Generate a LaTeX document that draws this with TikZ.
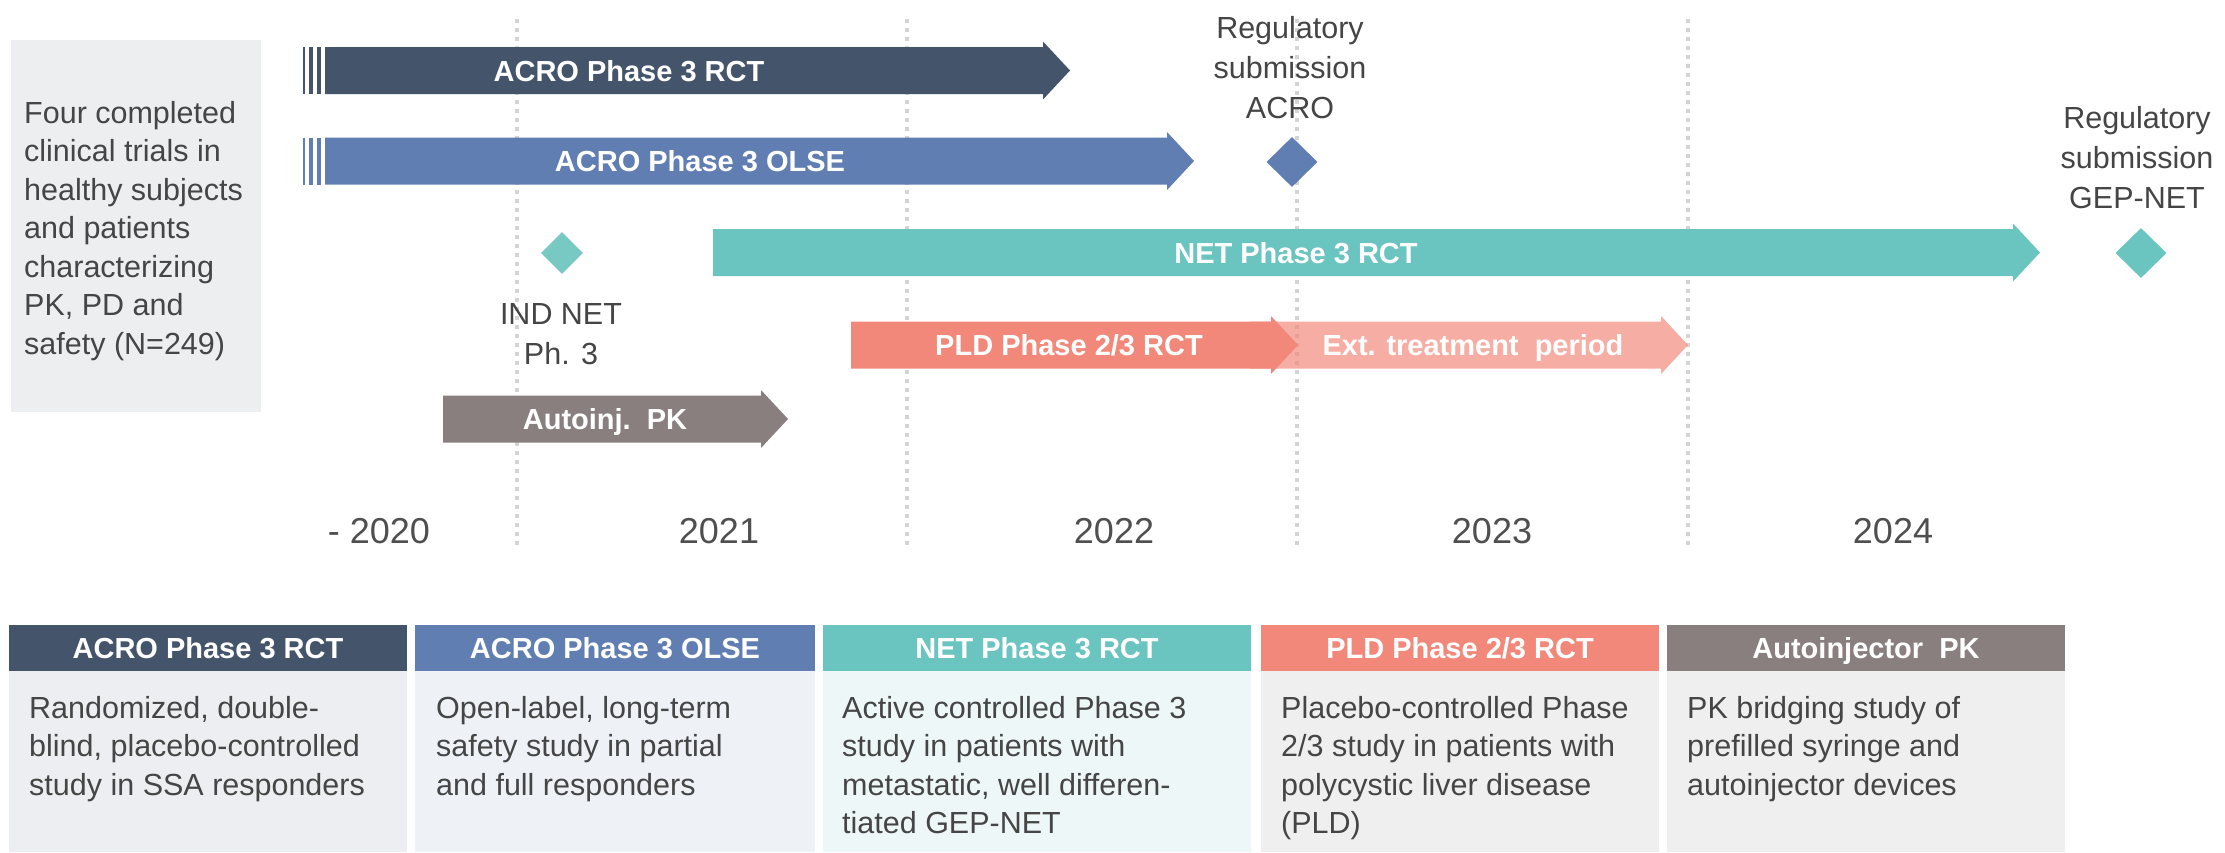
\documentclass[tikz,border=0pt]{standalone}
\usepackage{fontspec}
\setmainfont{Liberation Sans}
\usetikzlibrary{shapes.geometric}
\definecolor{acrorct}{HTML}{44546A}
\definecolor{acroolse}{HTML}{607EB2}
\definecolor{netc}{HTML}{6AC4C0}
\definecolor{indc}{HTML}{78C8C4}
\definecolor{pldc}{HTML}{F2887A}
\definecolor{autoc}{HTML}{897F7F}
\definecolor{txtgray}{HTML}{454545}
\definecolor{yeargray}{HTML}{4F4F4F}
\definecolor{dotgray}{HTML}{D4D4D4}
\definecolor{leftbox}{HTML}{EDEEF0}
\definecolor{bodyA}{HTML}{EDEEF1}
\definecolor{bodyB}{HTML}{EEF2F7}
\definecolor{bodyC}{HTML}{EEF7F8}
\definecolor{bodyD}{HTML}{EFEFEF}
\newcommand{\tlbar}[4]{% start x, tip x, centre y, colour
  \fill[#4] (#1,#3-23.5) -- (#2-27,#3-23.5) -- (#2-27,#3-29) -- (#2,#3)
    -- (#2-27,#3+29) -- (#2-27,#3+23.5) -- (#1,#3+23.5) -- cycle;}
\newcommand{\tlstripes}[2]{% centre y, colour
  \fill[#2] (303,#1-23.5) rectangle (305,#1+23.5);
  \fill[#2] (309,#1-23.5) rectangle (313,#1+23.5);
  \fill[#2] (317,#1-23.5) rectangle (321,#1+23.5);}
\newcommand{\fl}{\rule{0pt}{30pt}}
\begin{document}
\begin{tikzpicture}[x=1pt,y=-1pt,
  reg/.style={font=\fontsize{30.5}{38.5}\selectfont, text=txtgray, inner sep=0pt},
  regc/.style={font=\fontsize{30.5}{40}\selectfont, text=txtgray, inner sep=0pt, align=center, anchor=north},
  barlbl/.style={font=\fontsize{29}{34}\selectfont\bfseries, text=white, inner sep=0pt, anchor=base},
  yearlbl/.style={font=\fontsize{36}{40}\selectfont, text=yeargray, inner sep=0pt, anchor=base},
  bodytxt/.style={reg, align=left, anchor=north west},
  gridline/.style={draw=dotgray, line width=4pt, dash pattern=on 4pt off 5pt},
  milestone/.style={diamond, draw=none, inner sep=0pt, minimum width=51pt, minimum height=50pt}]
\useasboundingbox (0,0) rectangle (2225,852);
\fill[white] (0,0) rectangle (2225,852);

% left info box
\fill[leftbox] (11,40) rectangle (261,412);
\node[bodytxt] (intro) at (24,93) {\fl Four completed\\clinical trials in\\healthy subjects\\and patients\\characterizing\\PK, PD and\\safety (N=249)};

% year grid
\coordinate (g1t) at (517,19);  \coordinate (g1b) at (517,545);
\coordinate (g2t) at (907,19);  \coordinate (g2b) at (907,545);
\coordinate (g3t) at (1297,19); \coordinate (g3b) at (1297,545);
\coordinate (g4t) at (1688,19); \coordinate (g4b) at (1688,545);
\draw[gridline] (g1t) -- (g1b);
\draw[gridline] (g2t) -- (g2b);
\draw[gridline] (g3t) -- (g3b);
\draw[gridline] (g4t) -- (g4b);

% bars
\tlstripes{70.5}{acrorct}
\tlbar{325}{1070}{70.5}{acrorct}
\node[barlbl] (lACRORCT) at (629,81) {ACRO Phase 3 RCT};

\tlstripes{161}{acroolse}
\tlbar{325}{1194}{161}{acroolse}
\node[barlbl] (lOLSE) at (700,171.5) {ACRO Phase 3 OLSE};

\tlbar{713}{2040}{252.5}{netc}
\node[barlbl] (lNET) at (1296,263) {NET Phase 3 RCT};

\tlbar{1250}{1688}{345}{pldc,fill opacity=0.68}
\tlbar{851}{1298}{345}{pldc}
\node[barlbl] (lPLD) at (1069,355.5) {PLD Phase 2/3 RCT};
\node[barlbl] (lExt) at (1473,355.5) {Ext. treatment\ \ period};

\tlbar{443}{788}{419}{autoc}
\node[barlbl] (lAuto) at (605,429.5) {Autoinj.\ \ PK};

% milestones
\node[milestone, fill=indc, minimum width=42pt, minimum height=42pt] (mIND) at (562,253) {};
\node[milestone, fill=acroolse] (mACRO) at (1292,162) {};
\node[milestone, fill=netc] (mGEP) at (2141,253) {};
\node[regc] (tIND) at (561,294) {\fl IND NET\\Ph. 3};
\node[regc] (tACRO) at (1290,8) {\fl Regulatory\\submission\\ACRO};
\node[regc] (tGEP) at (2137,98) {\fl Regulatory\\submission\\GEP-NET};

% years
\node[yearlbl] (y2020) at (379,543) {- 2020};
\node[yearlbl] (y2021) at (719,543) {2021};
\node[yearlbl] (y2022) at (1114,543) {2022};
\node[yearlbl] (y2023) at (1492,543) {2023};
\node[yearlbl] (y2024) at (1893,543) {2024};

% bottom boxes
\fill[acrorct] (9,625) rectangle (407,671);
\fill[bodyA] (9,671) rectangle (407,852);
\node[barlbl] (h1) at (208,658.5) {ACRO Phase 3 RCT};
\node[bodytxt] (b1) at (29,688) {\fl Randomized, double-\\blind, placebo-controlled\\study in SSA responders};

\fill[acroolse] (415,625) rectangle (815,671);
\fill[bodyB] (415,671) rectangle (815,852);
\node[barlbl] (h2) at (615,658.5) {ACRO Phase 3 OLSE};
\node[bodytxt] (b2) at (436,688) {\fl Open-label, long-term\\safety study in partial\\and full responders};

\fill[netc] (823,625) rectangle (1251,671);
\fill[bodyC] (823,671) rectangle (1251,852);
\node[barlbl] (h3) at (1037,658.5) {NET Phase 3 RCT};
\node[bodytxt] (b3) at (842,688) {\fl Active controlled Phase 3\\study in patients with\\metastatic, well differen-\\tiated GEP-NET};

\fill[pldc] (1261,625) rectangle (1659,671);
\fill[bodyD] (1261,671) rectangle (1659,852);
\node[barlbl] (h4) at (1460,658.5) {PLD Phase 2/3 RCT};
\node[bodytxt] (b4) at (1281,688) {\fl Placebo-controlled Phase\\2/3 study in patients with\\polycystic liver disease\\(PLD)};

\fill[autoc] (1667,625) rectangle (2065,671);
\fill[bodyD] (1667,671) rectangle (2065,852);
\node[barlbl] (h5) at (1866,658.5) {Autoinjector\ \ PK};
\node[bodytxt] (b5) at (1687,688) {\fl PK bridging study of\\prefilled syringe and\\autoinjector devices};
\end{tikzpicture}
\end{document}
